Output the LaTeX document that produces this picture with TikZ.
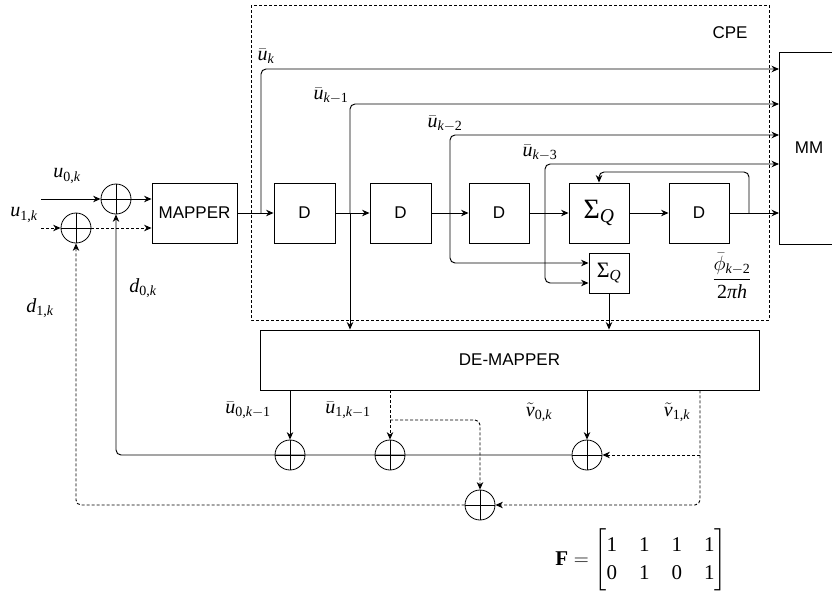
\documentclass[tikz,border=0pt]{standalone}
\usepackage{amsmath}
\usepackage{fontspec}
\setsansfont{Liberation Sans}
\newfontfamily\lsf{Liberation Serif}
\newcommand{\mi}[1]{\text{\lsf\itshape #1}}
\newcommand{\mr}[1]{\text{\lsf #1}}
\usetikzlibrary{arrows.meta}
\begin{document}
\begin{tikzpicture}[x=1pt,y=-1pt,
  blk/.style={draw, line width=0.9pt, inner sep=0, font=\sffamily\fontsize{17}{20}\selectfont},
  xorn/.style={circle, draw, line width=0.8pt, minimum size=30pt, inner sep=0,
    path picture={\draw[line width=0.8pt] (path picture bounding box.north) -- (path picture bounding box.south)
      (path picture bounding box.west) -- (path picture bounding box.east);}},
  arr/.style={line width=0.95pt, -{Stealth[length=7.5pt,width=6.5pt]}},
  rc/.style={rounded corners=5pt},
  dsh/.style={dash pattern=on 3pt off 2pt},
  lab/.style={inner sep=0, font=\fontsize{20}{24}\selectfont},
]
\useasboundingbox (0,0) rectangle (832,590);
\fill[white] (0,0) rectangle (832,590);

% CPE frame
\draw[line width=0.8pt, dsh] (251,5) rectangle (769,320);
\node[inner sep=0, font=\sffamily\fontsize{17}{20}\selectfont] (cpe) at (730,33) {CPE};

% blocks
\node[blk, minimum width=85pt, minimum height=60pt] (map) at (194.5,213) {MAPPER};
\node[blk, minimum width=61pt, minimum height=60pt] (d1) at (304.5,213) {D};
\node[blk, minimum width=61pt, minimum height=60pt] (d2) at (400.5,213) {D};
\node[blk, minimum width=60pt, minimum height=60pt] (d3) at (499,213) {D};
\node[blk, minimum width=60pt, minimum height=60pt, font=\fontsize{28}{32}\selectfont] (sq1) at (599,213) {$\mr{Σ}_{\mi{Q}}$};
\node[blk, minimum width=60pt, minimum height=60pt] (d4) at (699,213) {D};
\node[blk, minimum width=40pt, minimum height=40pt, font=\fontsize{22}{26}\selectfont] (sq2) at (609,273) {$\mr{Σ}_{\mi{Q}}$};
\node[blk, minimum width=66pt, minimum height=192pt, anchor=north west] (mm) at (779,52) {};
\node[inner sep=0, font=\sffamily\fontsize{17}{20}\selectfont] (mmt) at (809,148) {MM};
\node[blk, minimum width=499pt, minimum height=60pt] (dm) at (509.5,360) {DE-MAPPER};

% xors
\node[xorn] (xa) at (116,199) {};
\node[xorn] (xb) at (76,228) {};
\node[xorn] (x1) at (290,455) {};
\node[xorn] (x2) at (390,455) {};
\node[xorn] (x3) at (587,455) {};
\node[xorn] (x4) at (480,505) {};

% free ends / branch points
\coordinate (u0in) at (41,199);
\coordinate (u1in) at (41,228);
\coordinate (b0) at (261,213);
\coordinate (b1) at (350,213);
\coordinate (b2) at (450,213);
\coordinate (b3) at (545,213);
\coordinate (b4) at (749,213);
\coordinate (bu1) at (390,420);
\coordinate (bv1) at (700,455);

% inputs
\draw[arr] (u0in) -- (xa);
\draw[arr, dsh] (u1in) -- (xb);
\draw[arr] (xa.east) -- (map.west |- xa);
\draw[arr, dsh] (xb.east) -- (map.west |- xb);

% main chain
\draw[arr] (map) -- (d1);
\draw[arr] (d1) -- (d2);
\draw[arr] (d2) -- (d3);
\draw[arr] (d3) -- (sq1);
\draw[arr] (sq1) -- (d4);
\draw[arr] (d4) -- (mm.west |- d4);

% taps
\draw[arr, rc] (b0) -- (b0 |- 0,69) -- (mm.west |- 0,69);
\draw[arr, rc] (b1) -- (b1 |- 0,104) -- (mm.west |- 0,104);
\draw[arr] (b1) -- (dm.north -| b1);
\draw[arr, rc] (b2) -- (b2 |- 0,135) -- (mm.west |- 0,135);
\draw[arr, rc] (b2) -- (b2 |- 0,263) -- (sq2.west |- 0,263);
\draw[arr, rc] (b3) -- (b3 |- 0,164) -- (mm.west |- 0,164);
\draw[arr, rc] (b3) -- (b3 |- 0,283) -- (sq2.west |- 0,283);
\draw[arr, rc] (b4) -- (b4 |- 0,172) -- (sq1.north |- 0,172) -- (sq1.north);
\draw[arr] (sq2.south) -- (dm.north -| sq2.south);

% de-mapper outputs
\draw[arr] (dm.south -| x1) -- (x1.north);
\draw[arr, dsh] (dm.south -| x2) -- (x2.north);
\draw[arr, dsh, rc] (bu1) -- (x4 |- bu1) -- (x4.north);
\draw[arr] (dm.south -| x3) -- (x3.north);
\draw[arr, dsh, rc] (dm.south -| bv1) -- (bv1 |- x4) -- (x4.east);
\draw[arr, dsh] (bv1) -- (x3.east);

% feedback
\draw[arr, rc] (x3.west) -- (xa |- x3) -- (xa.south);
\draw[arr, dsh, rc] (x4.west) -- (xb |- x4) -- (xb.south);

% labels
\node[lab] (lu0) at (67,176) {$\mi{u}_{\mr{0,}\mi{k}}$};
\node[lab] (lu1) at (24,215) {$\mi{u}_{\mr{1,}\mi{k}}$};
\node[lab] (ld0) at (143,288) {$\mi{d}_{\mr{0,}\mi{k}}$};
\node[lab] (ld1) at (40,308) {$\mi{d}_{\mr{1,}\mi{k}}$};
\node[lab] (lk0) at (266,56) {$\bar{\mi{u}}_{\mi{k}}$};
\node[lab] (lk1) at (331,96) {$\bar{\mi{u}}_{\mi{k}-\mr{1}}$};
\node[lab] (lk2) at (445,124) {$\bar{\mi{u}}_{\mi{k}-\mr{2}}$};
\node[lab] (lk3) at (540,153) {$\bar{\mi{u}}_{\mi{k}-\mr{3}}$};
\node[lab] (lphi) at (732,276) {$\dfrac{\bar{\phi}_{\mi{k}-\mr{2}}}{\mr{2}\mi{πh}}$};
\node[lab] (lu0k) at (248,410) {$\bar{\mi{u}}_{\mr{0,}\mi{k}-\mr{1}}$};
\node[lab] (lu1k) at (348,410) {$\bar{\mi{u}}_{\mr{1,}\mi{k}-\mr{1}}$};
\node[lab] (lv0) at (539,412) {$\tilde{\mi{ν}}_{\mr{0,}\mi{k}}$};
\node[lab] (lv1) at (677,412) {$\tilde{\mi{ν}}_{\mr{1,}\mi{k}}$};
\node[inner sep=0, font=\fontsize{21}{25}\selectfont] (fm) at (641,560)
  {\renewcommand{\arraystretch}{1.1}\setlength{\arraycolsep}{11pt}$\text{\lsf\bfseries F}=\begin{bmatrix}\mr{1}&\mr{1}&\mr{1}&\mr{1}\\\mr{0}&\mr{1}&\mr{0}&\mr{1}\end{bmatrix}$};
\end{tikzpicture}
\end{document}
